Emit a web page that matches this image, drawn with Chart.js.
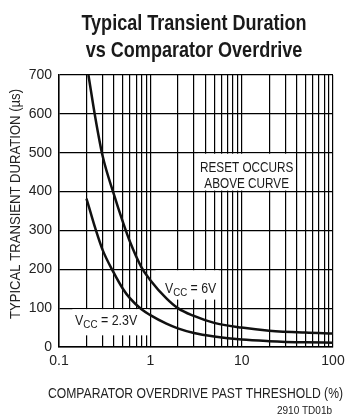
<!DOCTYPE html>
<html><head><meta charset="utf-8">
<script src="https://cdn.jsdelivr.net/npm/chart.js@4/dist/chart.umd.min.js"></script>
<style>html,body{margin:0;padding:0;background:#fff}#wrap{width:358px;height:420px;position:relative}</style>
</head><body><div id="wrap"><canvas id="c" width="358" height="420"></canvas></div>
<script>
// ---- data ----
const overdrive6V  = [0.21, 0.25, 0.3, 0.4, 0.5, 0.6, 0.8, 1, 1.5, 2, 3, 5, 10, 20, 50, 100];
const duration6V   = [700, 590, 492, 392, 322, 270, 205, 172, 125, 100, 80, 62, 50, 42, 37, 35];
const overdrive23V = [0.2, 0.25, 0.3, 0.4, 0.5, 0.6, 0.8, 1, 1.5, 2, 3, 5, 10, 20, 50, 100];
const duration23V  = [382, 305, 250, 190, 150, 125, 97, 82, 60, 48, 36, 27, 19, 15, 12, 11];
const xGridValues  = [0.1,0.2,0.3,0.4,0.5,0.6,0.7,0.8,0.9,1,2,3,4,5,6,7,8,9,10,20,30,40,50,60,70,80,90,100];
const xTickLabels  = ['0.1','1','10','100'];
const yTickValues  = [0,100,200,300,400,500,600,700];
const titleLines   = ['Typical Transient Duration','vs Comparator Overdrive'];
const xTitle = 'COMPARATOR OVERDRIVE PAST THRESHOLD (%)';
const yTitle = 'TYPICAL TRANSIENT DURATION (\u00B5s)';
const noteLines = ['RESET OCCURS','ABOVE CURVE'];
const footnote = '2910 TD01b';

const NARROW = '"Liberation Sans Narrow", "Arial Narrow", "Liberation Sans", sans-serif';

function toPts(xs, ys){ return xs.map((x,i)=>({x:x, y:ys[i]})); }

// draw text horizontally condensed by factor sx
function sText(ctx, text, x, y, sx, align){
  ctx.save();
  ctx.translate(x, y);
  ctx.scale(sx, 1);
  ctx.textAlign = align || 'left';
  ctx.fillText(text, 0, 0);
  ctx.restore();
}

function vccLabel(ctx, x, y, rest, sx){
  ctx.textBaseline='alphabetic';
  ctx.font = '14px ' + NARROW;
  sText(ctx, 'V', x, y, sx);
  let w = ctx.measureText('V').width*sx;
  ctx.font = '11px ' + NARROW;
  sText(ctx, 'CC', x+w, y+3, sx);
  w += ctx.measureText('CC').width*sx;
  ctx.font = '14px ' + NARROW;
  sText(ctx, rest, x+w, y, sx);
}

const annot = {
  id:'annot',
  beforeDatasetsDraw(chart){
    const {ctx, scales:{x, y}} = chart;
    ctx.save();
    ctx.fillStyle = '#fff';
    // RESET box between 400 and 500 grid lines
    let x0 = x.getPixelForValue(3.3), x1 = x.getPixelForValue(39);
    let y0 = y.getPixelForValue(500)+1, y1 = y.getPixelForValue(400)-1;
    ctx.fillRect(x0, y0, x1-x0, y1-y0);
    // Vcc = 6V box
    x0 = x.getPixelForValue(1.14); x1 = x.getPixelForValue(5.6);
    y0 = y.getPixelForValue(200)+1; y1 = y.getPixelForValue(122);
    ctx.fillRect(x0, y0, x1-x0, y1-y0);
    // Vcc = 2.3V box
    x0 = x.getPixelForValue(0.14); x1 = x.getPixelForValue(0.95);
    y0 = y.getPixelForValue(100)+1; y1 = y.getPixelForValue(30);
    ctx.fillRect(x0, y0, x1-x0, y1-y0);
    ctx.restore();
  },
  afterDraw(chart){
    const {ctx, scales:{x, y}} = chart;
    ctx.save();
    ctx.fillStyle = '#1a1a1a';
    ctx.textBaseline = 'alphabetic';
    // title
    ctx.font = 'bold 22px ' + NARROW;
    sText(ctx, titleLines[0], 194, 30, 0.82, 'center');
    sText(ctx, titleLines[1], 194, 57, 0.82, 'center');
    // note
    ctx.font = '14px ' + NARROW;
    const cx = (x.getPixelForValue(3.3) + x.getPixelForValue(39))/2;
    sText(ctx, noteLines[0], cx, 172, 0.84, 'center');
    sText(ctx, noteLines[1], cx, 188, 0.84, 'center');
    // Vcc labels
    vccLabel(ctx, 165, 293, ' = 6V', 0.88);
    vccLabel(ctx, 75, 325, ' = 2.3V', 0.89);
    // axis titles
    ctx.fillStyle = '#222';
    ctx.font = '15px ' + NARROW;
    let w = ctx.measureText(xTitle).width;
    sText(ctx, xTitle, 195.5, 398, 295 / w, 'center');
    ctx.font = '14px ' + NARROW;
    w = ctx.measureText(yTitle).width;
    ctx.save();
    ctx.translate(20, 204);
    ctx.rotate(-Math.PI/2);
    sText(ctx, yTitle, 0, 0, 230 / w, 'center');
    ctx.restore();
    // footnote
    ctx.fillStyle = '#1a1a1a';
    ctx.font = '10px "Liberation Sans", Arial, sans-serif';
    sText(ctx, footnote, 332, 414, 1, 'right');
    ctx.restore();
  }
};

new Chart(document.getElementById('c'), {
  type:'line',
  data:{
    datasets:[
      {label:'VCC = 6V', data: toPts(overdrive6V, duration6V), borderColor:'#111', borderWidth:2.5, pointRadius:0, cubicInterpolationMode:'monotone', fill:false},
      {label:'VCC = 2.3V', data: toPts(overdrive23V, duration23V), borderColor:'#111', borderWidth:2.5, pointRadius:0, cubicInterpolationMode:'monotone', fill:false}
    ]
  },
  options:{
    responsive:false, animation:false, devicePixelRatio:1,
    layout:{padding:{top:75, right:25, bottom:0, left:0}},
    plugins:{legend:{display:false}, tooltip:{enabled:false}, title:{display:false}},
    scales:{
      x:{
        type:'logarithmic', min:0.1, max:100,
        afterBuildTicks: s => { s.ticks = xGridValues.map(v=>({value:v})); },
        afterFit: s => { s.height = 73; },
        grid:{color:'#000', lineWidth:1.2, drawTicks:false},
        border:{color:'#000', width:1.5},
        ticks:{autoSkip:false, maxRotation:0, padding:6, color:'#222',
          font:{family:NARROW, size:14},
          callback: v => xTickLabels.includes(String(v)) ? String(v) : ''},
        title:{display:false}
      },
      y:{
        type:'linear', min:0, max:700,
        afterBuildTicks: s => { s.ticks = yTickValues.map(v=>({value:v})); },
        afterFit: s => { s.width = 59; },
        grid:{color:'#000', lineWidth:1.2, drawTicks:false},
        border:{color:'#000', width:1.5},
        ticks:{padding:7, color:'#222', font:{family:NARROW, size:14}},
        title:{display:false}
      }
    }
  },
  plugins:[annot]
});
</script></body></html>
